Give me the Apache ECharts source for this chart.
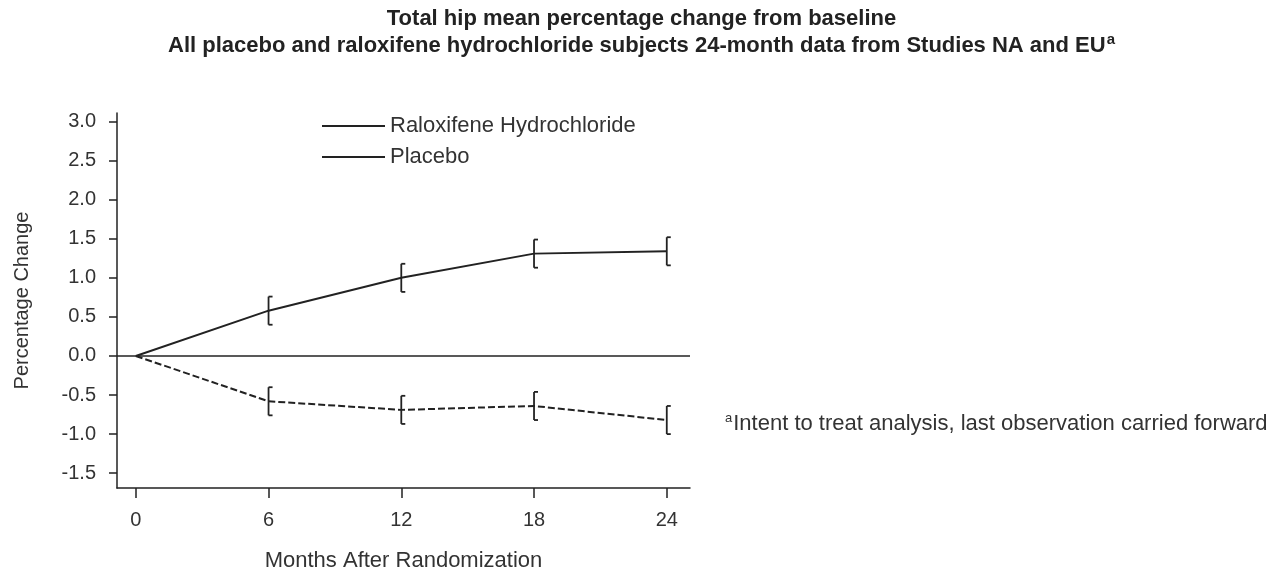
<!DOCTYPE html>
<html>
<head>
<meta charset="utf-8">
<script src="https://cdn.jsdelivr.net/npm/echarts@6/dist/echarts.min.js"></script>
<style>
  html, body { margin: 0; padding: 0; background: #fff; }
  #chart { width: 1283px; height: 573px; }
</style>
</head>
<body>
<div id="chart"></div>
<script>
// data
const months = [0, 6, 12, 18, 24];
const raloxifene = [0, 0.58, 1.00, 1.31, 1.34];
const placebo = [0, -0.58, -0.69, -0.64, -0.82];
const raloxifeneErr = [null, 0.18, 0.18, 0.18, 0.18];
const placeboErr = [null, 0.18, 0.18, 0.18, 0.18];
const yTicks = [-1.5, -1.0, -0.5, 0.0, 0.5, 1.0, 1.5, 2.0, 2.5, 3.0];

const font = '"Liberation Sans", Arial, sans-serif';
const ink = '#222';

const pairs = (ys) => months.map((m, i) => [m, ys[i]]);
const bars = (ys, err) => months
  .map((m, i) => (err[i] == null ? null : [m, ys[i] - err[i], ys[i] + err[i]]))
  .filter(d => d);

// "[" shaped error bar: vertical stroke with short caps to the right
function renderBracket(params, api) {
  const x = api.value(0);
  const top = api.coord([x, api.value(2)]);
  const bot = api.coord([x, api.value(1)]);
  const cap = 4;
  const style = { stroke: ink, lineWidth: 1.8 };
  return {
    type: 'group',
    children: [
      { type: 'line', shape: { x1: top[0], y1: top[1], x2: bot[0], y2: bot[1] }, style },
      { type: 'line', shape: { x1: top[0], y1: top[1], x2: top[0] + cap, y2: top[1] }, style },
      { type: 'line', shape: { x1: bot[0], y1: bot[1], x2: bot[0] + cap, y2: bot[1] }, style }
    ]
  };
}

const chart = echarts.init(document.getElementById('chart'));
chart.setOption({
  backgroundColor: '#fff',
  animation: false,
  textStyle: { fontFamily: font },
  title: {
    left: 'center',
    top: 0,
    text: '{t|Total hip mean percentage change from baseline}\n{t|All placebo and raloxifene hydrochloride subjects 24-month data from Studies NA and EU}{s|a}',
    textStyle: {
      rich: {
        t: { fontFamily: font, fontWeight: 'bold', fontSize: 22, lineHeight: 27, color: ink },
        s: { fontFamily: font, fontWeight: 'bold', fontSize: 15, lineHeight: 27, color: ink, verticalAlign: 'top', padding: [0, 0, 10, 1] }
      }
    }
  },
  legend: {
    orient: 'vertical',
    left: 322,
    top: 115,
    padding: 0,
    icon: 'rect',
    itemWidth: 63,
    itemHeight: 2,
    itemGap: 9,
    textStyle: { fontFamily: font, fontSize: 22, lineHeight: 21, color: '#333' },
    data: [
      { name: 'Raloxifene Hydrochloride', itemStyle: { color: ink } },
      { name: 'Placebo', itemStyle: { color: ink } }
    ]
  },
  grid: { left: 117, right: 593, top: 113, bottom: 85, containLabel: false, outerBoundsMode: 'none' },
  xAxis: {
    type: 'value',
    min: -0.85,
    max: 25.05,
    name: 'Months After Randomization',
    nameLocation: 'middle',
    nameGap: 62,
    nameTextStyle: { fontFamily: font, fontSize: 22, color: '#333' },
    axisLine: { onZero: false, lineStyle: { color: ink, width: 1.5 } },
    axisTick: { show: true, length: 10, customValues: months, lineStyle: { color: ink, width: 1.5 } },
    axisLabel: { customValues: months, fontFamily: font, fontSize: 20, color: '#333', margin: 22 },
    splitLine: { show: false }
  },
  yAxis: {
    type: 'value',
    min: -1.69,
    max: 3.11,
    name: 'Percentage Change',
    nameLocation: 'middle',
    nameGap: 85,
    nameTextStyle: { fontFamily: font, fontSize: 20, color: '#333' },
    axisLine: { show: true, onZero: false, lineStyle: { color: ink, width: 1.5 } },
    axisTick: { show: true, length: 8, customValues: yTicks, lineStyle: { color: ink, width: 1.5 } },
    axisLabel: {
      customValues: yTicks,
      fontFamily: font, fontSize: 20, color: '#333', margin: 21,
      formatter: v => v.toFixed(1)
    },
    splitLine: { show: false }
  },
  series: [
    {
      name: 'Raloxifene Hydrochloride',
      type: 'line',
      symbol: 'none',
      data: pairs(raloxifene),
      lineStyle: { color: ink, width: 2 },
      itemStyle: { color: ink },
      markLine: {
        silent: true,
        symbol: 'none',
        label: { show: false },
        lineStyle: { color: ink, width: 1.5, type: 'solid' },
        data: [{ yAxis: 0 }]
      },
      z: 3
    },
    {
      name: 'Placebo',
      type: 'line',
      symbol: 'none',
      data: pairs(placebo),
      lineStyle: { color: ink, width: 2, type: [7, 3] },
      itemStyle: { color: ink },
      z: 3
    },
    {
      type: 'custom',
      renderItem: renderBracket,
      data: bars(raloxifene, raloxifeneErr),
      encode: { x: 0, y: [1, 2] },
      z: 4
    },
    {
      type: 'custom',
      renderItem: renderBracket,
      data: bars(placebo, placeboErr),
      encode: { x: 0, y: [1, 2] },
      z: 4
    }
  ],
  graphic: [
    {
      type: 'text',
      left: 725,
      top: 412,
      style: {
        text: '{s|a}{t|Intent to treat analysis, last observation carried forward}',
        rich: {
          t: { fontFamily: font, fontSize: 22, lineHeight: 24, fill: '#333', color: '#333' },
          s: { fontFamily: font, fontSize: 13, lineHeight: 24, fill: '#333', color: '#333', verticalAlign: 'top', padding: [0, 1, 8, 0] }
        }
      }
    }
  ]
});
window.addEventListener('resize', () => chart.resize());
</script>
</body>
</html>
